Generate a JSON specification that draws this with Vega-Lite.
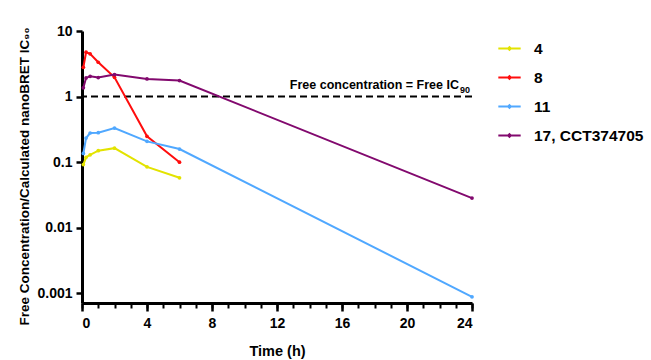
{
  "$schema": "https://vega.github.io/schema/vega-lite/v6.json",
  "width": 390,
  "height": 272,
  "autosize": {"type": "none"},
  "padding": {"left": 82, "top": 31, "right": 179, "bottom": 57},
  "config": {
    "view": {"stroke": null},
    "font": "Liberation Sans",
    "axis": {"labelFont": "Liberation Sans", "titleFont": "Liberation Sans", "labelFontWeight": "bold", "titleFontWeight": "bold", "labelColor": "black", "titleColor": "black", "domainColor": "black", "tickColor": "black", "grid": false}
  },
  "datasets": {
    "series": [
      {"t": 0.083, "v": 0.092, "c": "4"},
      {"t": 0.25, "v": 0.119, "c": "4"},
      {"t": 0.5, "v": 0.13, "c": "4"},
      {"t": 1, "v": 0.15, "c": "4"},
      {"t": 2, "v": 0.164, "c": "4"},
      {"t": 4, "v": 0.085, "c": "4"},
      {"t": 6, "v": 0.058, "c": "4"},
      {"t": 0.083, "v": 2.8, "c": "8"},
      {"t": 0.25, "v": 4.75, "c": "8"},
      {"t": 0.5, "v": 4.5, "c": "8"},
      {"t": 1, "v": 3.34, "c": "8"},
      {"t": 2, "v": 1.97, "c": "8"},
      {"t": 4, "v": 0.248, "c": "8"},
      {"t": 6, "v": 0.1, "c": "8"},
      {"t": 0.083, "v": 0.136, "c": "11"},
      {"t": 0.25, "v": 0.234, "c": "11"},
      {"t": 0.5, "v": 0.279, "c": "11"},
      {"t": 1, "v": 0.282, "c": "11"},
      {"t": 2, "v": 0.332, "c": "11"},
      {"t": 4, "v": 0.208, "c": "11"},
      {"t": 6, "v": 0.159, "c": "11"},
      {"t": 24, "v": 0.00089, "c": "11"},
      {"t": 0.083, "v": 1.36, "c": "17, CCT374705"},
      {"t": 0.25, "v": 1.93, "c": "17, CCT374705"},
      {"t": 0.5, "v": 2.04, "c": "17, CCT374705"},
      {"t": 1, "v": 1.95, "c": "17, CCT374705"},
      {"t": 2, "v": 2.17, "c": "17, CCT374705"},
      {"t": 4, "v": 1.86, "c": "17, CCT374705"},
      {"t": 6, "v": 1.76, "c": "17, CCT374705"},
      {"t": 24, "v": 0.0284, "c": "17, CCT374705"}
    ],
    "ref": [{"t": 24, "v": 1, "label": "Free concentration = Free IC", "sub": "90"}]
  },
  "resolve": {"scale": {"x": "independent"}, "axis": {"x": "independent"}},
  "layer": [
    {
      "data": {"name": "ref"},
      "mark": {"type": "rule", "strokeDash": [7, 4], "strokeWidth": 2, "color": "black"},
      "encoding": {"y": {"field": "v", "type": "quantitative"}}
    },
    {
      "data": {"name": "ref"},
      "mark": {"type": "text", "align": "right", "baseline": "bottom", "dx": -13, "dy": -5, "fontWeight": "bold", "fontSize": 12.5, "font": "Liberation Sans", "color": "black"},
      "encoding": {
        "x": {"field": "t", "type": "quantitative", "scale": {"domain": [0, 24], "nice": false, "zero": false},
          "axis": {"orient": "bottom", "values": [0,1,2,3,4,5,6,7,8,9,10,11,12,13,14,15,16,17,18,19,20,21,22,23,24], "labels": false, "domain": false, "tickSize": 5, "tickWidth": 2, "title": null}},
        "y": {"field": "v", "type": "quantitative"},
        "text": {"field": "label"}
      }
    },
    {
      "data": {"name": "ref"},
      "mark": {"type": "text", "align": "right", "baseline": "bottom", "dx": -2, "dy": -2, "fontWeight": "bold", "fontSize": 9, "font": "Liberation Sans", "color": "black"},
      "encoding": {
        "x": {"field": "t", "type": "quantitative", "scale": {"domain": [0, 24], "nice": false, "zero": false}, "axis": null},
        "y": {"field": "v", "type": "quantitative"},
        "text": {"field": "sub"}
      }
    },
    {
      "data": {"name": "series"},
      "mark": {"type": "line", "strokeWidth": 2, "point": {"size": 14, "filled": true}},
      "encoding": {
        "x": {"field": "t", "type": "quantitative", "scale": {"domain": [0, 24], "nice": false, "zero": false},
          "axis": {"orient": "bottom", "values": [0, 4, 8, 12, 16, 20, 24], "domainWidth": 3, "tickWidth": 2.5, "tickSize": 8, "labelFontSize": 14, "labelPadding": 5, "title": "Time (h)", "titleFontSize": 14.5, "titlePadding": 14}},
        "y": {"field": "v", "type": "quantitative",
          "scale": {"type": "log", "domain": [0.000716, 10], "nice": false},
          "axis": {"values": [0.001, 0.01, 0.1, 1, 10], "format": "~g", "domainWidth": 3, "tickWidth": 2.5, "tickSize": 6, "labelFontSize": 14, "labelPadding": 4,
            "title": "Free Concentration/Calculated nanoBRET IC₉₀", "titleFontSize": 13.5, "titlePadding": 5, "titleY": 145}},
        "color": {"field": "c", "type": "nominal",
          "scale": {"domain": ["4", "8", "11", "17, CCT374705"], "range": ["#e3e300", "#ff0d0d", "#50a8ff", "#82096e"]},
          "legend": {"orient": "none", "legendX": 415, "legendY": 5, "title": null,
            "symbolType": "M-1,0H1M-0.12,0L0,-0.12L0.12,0L0,0.12Z", "symbolSize": 500, "symbolStrokeWidth": 2,
            "labelFont": "Liberation Sans", "labelFontWeight": "bold", "labelFontSize": 15.5, "labelColor": "black", "labelOffset": 12, "rowPadding": 8}}
      }
    }
  ]
}
